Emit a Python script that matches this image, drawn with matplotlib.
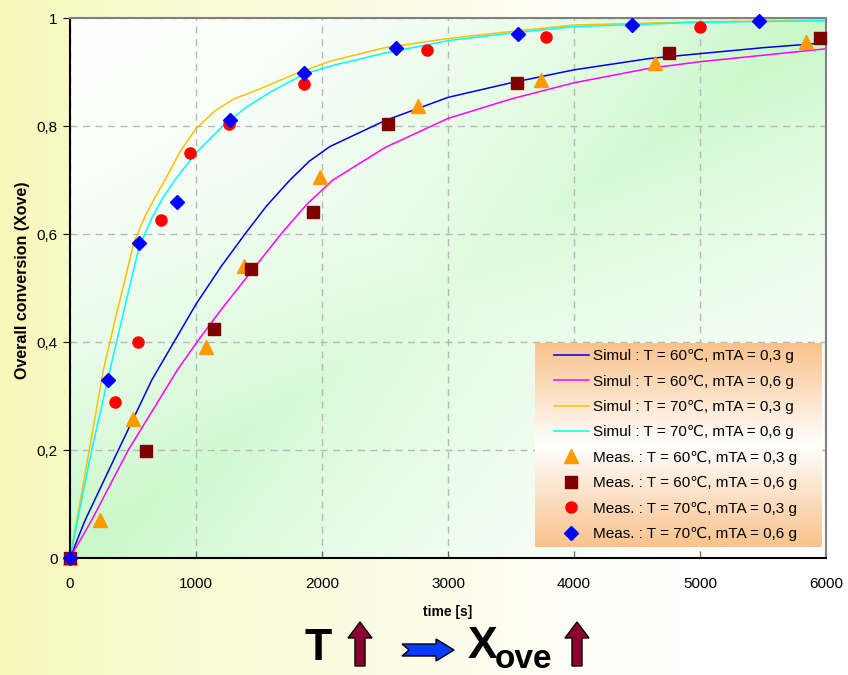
import numpy as np
import matplotlib
matplotlib.use("Agg")
import matplotlib.pyplot as plt
from matplotlib.patches import Polygon

plt.rcParams['font.family'] = ['Liberation Sans', 'DejaVu Sans']

# simulated curves (time [s], conversion)
t_sim_60_03 = [0, 120, 384, 650, 1000, 1200, 1389, 1560, 1746, 1900, 2063, 2500, 3000, 3500, 4000, 4600, 5000, 5500, 6000]
x_sim_60_03 = [0, 0.07, 0.2, 0.33, 0.47, 0.54, 0.6, 0.652, 0.70, 0.735, 0.762, 0.81, 0.853, 0.88, 0.904, 0.925, 0.934, 0.945, 0.954]
t_sim_60_06 = [0, 172, 463, 852, 1008, 1200, 1437, 1675, 1880, 2087, 2500, 3000, 3500, 4000, 4603, 5000, 5500, 6000]
x_sim_60_06 = [0, 0.07, 0.2, 0.348, 0.4, 0.46, 0.53, 0.6, 0.655, 0.70, 0.76, 0.814, 0.85, 0.880, 0.907, 0.919, 0.931, 0.943]
t_sim_70_03 = [0, 153, 265, 357, 430, 508, 600, 680, 754, 880, 1000, 1150, 1300, 1500, 1772, 2063, 2500, 3000, 3500, 4000, 5000, 6000]
x_sim_70_03 = [0, 0.2, 0.348, 0.44, 0.51, 0.585, 0.635, 0.67, 0.70, 0.755, 0.795, 0.828, 0.85, 0.868, 0.895, 0.92, 0.945, 0.962, 0.975, 0.987, 0.993, 0.996]
t_sim_70_06 = [0, 172, 317, 450, 548, 650, 740, 833, 1000, 1214, 1400, 1600, 1865, 2100, 2500, 3000, 3500, 4000, 5000, 6000]
x_sim_70_06 = [0, 0.2, 0.348, 0.48, 0.575, 0.63, 0.668, 0.70, 0.75, 0.80, 0.835, 0.864, 0.897, 0.913, 0.935, 0.958, 0.972, 0.984, 0.992, 0.995]

# measurements
t_meas_60_03 = [0, 238, 500, 1079, 1381, 1984, 2762, 3738, 4643, 5841]
x_meas_60_03 = [0, 0.070, 0.257, 0.391, 0.541, 0.706, 0.837, 0.885, 0.917, 0.956]
t_meas_60_06 = [0, 603, 1143, 1437, 1929, 2524, 3548, 4754, 5952]
x_meas_60_06 = [0, 0.198, 0.424, 0.535, 0.641, 0.804, 0.880, 0.935, 0.963]
t_meas_70_03 = [0, 357, 540, 722, 952, 1262, 1857, 2833, 3778, 5000]
x_meas_70_03 = [0, 0.289, 0.400, 0.626, 0.750, 0.804, 0.878, 0.941, 0.965, 0.983]
t_meas_70_06 = [0, 302, 548, 849, 1270, 1857, 2587, 3556, 4460, 5468]
x_meas_70_06 = [0, 0.330, 0.583, 0.659, 0.811, 0.898, 0.944, 0.970, 0.987, 0.994]

yticks = [0, 0.2, 0.4, 0.6, 0.8, 1.0]
ytick_labels = ['0', '0,2', '0,4', '0,6', '0,8', '1']
xticks = [0, 1000, 2000, 3000, 4000, 5000, 6000]

W, H = 848, 675
fig = plt.figure(figsize=(W / 100, H / 100), dpi=100)

def px(x, y):
    return (x / W, 1 - y / H)

# figure background: yellow -> white, left to right
bg = fig.add_axes([0, 0, 1, 1], zorder=-10)
u = np.linspace(0, 1, 400)
f = np.clip(u / 0.8, 0, 1) ** 0.8
yel = np.array([247, 247, 185]) / 255.0
row = yel[None, :] * (1 - f[:, None]) + f[:, None]
bg.imshow(row[None, :, :], aspect='auto', extent=(0, 1, 0, 1))
bg.set_axis_off()

ax = fig.add_axes([70 / W, 117 / H, 756 / W, 540 / H])
ax.set_facecolor('none')

# plot area gradient: green toward bottom-left / top-right, white in the other corners
gx, gy = np.meshgrid(np.linspace(0, 1, 300), np.linspace(1, 0, 300))
g = np.clip(1 - np.abs(gx - gy), 0, 1) ** 1.5 * (0.55 + 0.45 * np.abs(gx + gy - 1))
green = np.array([200, 248, 200]) / 255.0
img = np.ones((300, 300, 3)) * (1 - g[..., None]) + green * g[..., None]
ax.imshow(img, aspect='auto', extent=(0, 6000, 0, 1), zorder=0)

ax.plot(t_sim_60_03, x_sim_60_03, color='#0000e0', lw=1.1, label='Simul : T = 60℃, mTA = 0,3 g', zorder=2)
ax.plot(t_sim_60_06, x_sim_60_06, color='#ff00ff', lw=1.1, label='Simul : T = 60℃, mTA = 0,6 g', zorder=2)
ax.plot(t_sim_70_03, x_sim_70_03, color='#ffc000', lw=1.1, label='Simul : T = 70℃, mTA = 0,3 g', zorder=2)
ax.plot(t_sim_70_06, x_sim_70_06, color='#00ffff', lw=1.1, label='Simul : T = 70℃, mTA = 0,6 g', zorder=2)

ax.plot(t_meas_60_03, x_meas_60_03, ls='none', marker='^', ms=10, color='#ff9900', label='Meas. : T = 60℃, mTA = 0,3 g', zorder=3, clip_on=False)
ax.plot(t_meas_60_06, x_meas_60_06, ls='none', marker='s', ms=8, color='#800000', label='Meas. : T = 60℃, mTA = 0,6 g', zorder=3, clip_on=False)
ax.plot(t_meas_70_03, x_meas_70_03, ls='none', marker='o', ms=8, color='#ff0000', label='Meas. : T = 70℃, mTA = 0,3 g', zorder=3, clip_on=False)
ax.plot(t_meas_70_06, x_meas_70_06, ls='none', marker='D', ms=7, color='#0000ff', label='Meas. : T = 70℃, mTA = 0,6 g', zorder=3, clip_on=False)

ax.set_xlim(0, 6000)
ax.set_ylim(0, 1)
ax.set_xticks(xticks)
ax.set_xticklabels([str(v) for v in xticks])
ax.set_yticks(yticks)
ax.set_yticklabels(ytick_labels)
ax.tick_params(axis='x', direction='in', length=5, pad=14, labelsize=11, color='#606060')
ax.tick_params(axis='y', direction='out', length=5, pad=4, labelsize=11)
ax.grid(True, ls=(0, (5, 4)), color='#b8b8b8', lw=1)
ax.set_axisbelow(True)
for s in ['left', 'bottom']:
    ax.spines[s].set_color('black')
    ax.spines[s].set_linewidth(1.5)
for s in ['top', 'right']:
    ax.spines[s].set_color('#808080')
    ax.spines[s].set_linewidth(1.5)

ax.set_ylabel('Overall conversion (Xove)', fontsize=11.5, fontweight='bold')
ax.yaxis.set_label_coords((30 - 70) / 756, (558 - 280) / 540)
fig.text(448 / W, 1 - 612 / H, 'time [s]', fontsize=10, fontweight='bold', ha='center', va='center')

# legend on an orange/white/orange box
lx0, lx1, ly0, ly1 = 535, 822, 343, 547
box = ((lx0 - 70) / 756, (lx1 - 70) / 756, (558 - ly1) / 540, (558 - ly0) / 540)
lv = np.linspace(0, 1, 200)
lf = np.abs(lv - 0.5) * 2
org = np.array([249, 194, 140]) / 255.0
col = np.ones((200, 3)) * (1 - lf[:, None]) + org * lf[:, None]
ax.imshow(col[:, None, :], aspect='auto', extent=box, transform=ax.transAxes, zorder=5)
leg = ax.legend(loc='center', bbox_to_anchor=((box[0] + box[1]) / 2 - 0.004, (box[2] + box[3]) / 2),
                frameon=False, fontsize=11, handlelength=2.3, labelspacing=0.74, borderpad=0.2,
                handletextpad=0.3, numpoints=1)
leg.set_zorder(6)
ax.set_xlim(0, 6000)
ax.set_ylim(0, 1)

# bottom annotation: T (up) -> Xove (up)
def up_arrow(cx):
    pts = [(cx, 622), (cx + 12, 638), (cx + 5, 638), (cx + 5, 666), (cx - 5, 666), (cx - 5, 638), (cx - 12, 638)]
    fig.patches.append(Polygon([px(*p) for p in pts], closed=True, transform=fig.transFigure,
                               facecolor='#8c0032', edgecolor='black', lw=1))

fig.text(318 / W, 1 - 648 / H, 'T', fontsize=32, fontweight='bold', ha='center', va='center')
up_arrow(360)
blue = [(402, 644), (436, 644), (436, 639), (454, 650), (436, 661), (436, 656), (402, 656), (409, 650)]
fig.patches.append(Polygon([px(*p) for p in blue], closed=True, transform=fig.transFigure,
                           facecolor='#0a3cff', edgecolor='black', lw=1))
fig.text(482 / W, 1 - 647 / H, 'X', fontsize=32, fontweight='bold', ha='center', va='center')
fig.text(523 / W, 1 - 660 / H, 'ove', fontsize=24, fontweight='bold', ha='center', va='center')
up_arrow(577)

fig.savefig('out.png', dpi=100)
